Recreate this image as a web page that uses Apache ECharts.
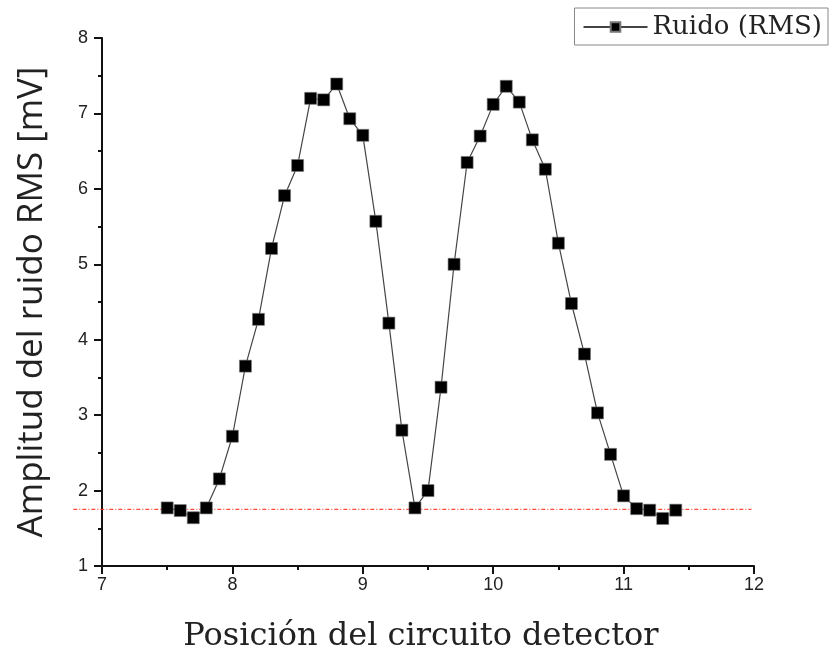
<!DOCTYPE html>
<html>
<head>
<meta charset="utf-8">
<script src="https://cdn.jsdelivr.net/npm/echarts@6/dist/echarts.min.js"></script>
<style>
  html, body { margin: 0; padding: 0; background: #fff; }
  #chart { width: 830px; height: 656px; }
</style>
</head>
<body>
<div id="chart"></div>
<script>
// Detector position (x) and RMS noise amplitude in mV (y)
const positions = [7.5, 7.6, 7.7, 7.8, 7.9, 8.0, 8.1, 8.2, 8.3, 8.4,
                   8.5, 8.6, 8.7, 8.8, 8.9, 9.0, 9.1, 9.2, 9.3, 9.4,
                   9.5, 9.6, 9.7, 9.8, 9.9, 10.0, 10.1, 10.2, 10.3, 10.4,
                   10.5, 10.6, 10.7, 10.8, 10.9, 11.0, 11.1, 11.2, 11.3, 11.4];
const rmsNoise = [1.77, 1.735, 1.64, 1.77, 2.155, 2.72, 3.65, 4.27, 5.21, 5.91,
                  6.31, 7.20, 7.18, 7.39, 6.93, 6.71, 5.57, 4.22, 2.80, 1.77,
                  2.00, 3.37, 5.00, 6.35, 6.70, 7.12, 7.36, 7.15, 6.65, 6.26,
                  5.28, 4.48, 3.81, 3.03, 2.48, 1.93, 1.76, 1.74, 1.63, 1.74];
// Baseline noise level and the span of its reference line
const baselineLevel = 1.75;
const baselineSpan = [6.78, 11.98];

const xTicks = [7, 8, 9, 10, 11, 12];
const yTicks = [1, 2, 3, 4, 5, 6, 7, 8];

const seriesName = 'Ruido (RMS)';

const chart = echarts.init(document.getElementById('chart'), null, { renderer: 'canvas' });

const axisCommon = {
  axisLine: { show: true, onZero: false, lineStyle: { color: '#111', width: 2 } },
  axisTick: { show: true, inside: false, length: 8, lineStyle: { color: '#111', width: 2 } },
  minorTick: { show: true, splitNumber: 2, length: 4, lineStyle: { color: '#111', width: 2 } },
  splitLine: { show: false },
  axisLabel: { color: '#222', fontFamily: 'Liberation Sans', fontSize: 18 }
};

chart.setOption({
  animation: false,
  backgroundColor: '#fff',
  grid: { left: 102, right: 76, top: 38, bottom: 90, containLabel: false, outerBoundsMode: 'none' },
  legend: {
    show: true,
    data: [seriesName],
    right: 2,
    top: 8,
    padding: [6, 6, 5, 8],
    borderColor: '#888',
    borderWidth: 1,
    itemWidth: 64,
    itemHeight: 12,
    itemGap: 6,
    textStyle: { fontFamily: 'DejaVu Serif', fontSize: 26, color: '#222' }
  },
  xAxis: Object.assign({}, axisCommon, {
    type: 'value',
    min: xTicks[0],
    max: xTicks[xTicks.length - 1],
    interval: 1,
    name: 'Posición del circuito detector',
    nameLocation: 'middle',
    nameGap: 55,
    nameTextStyle: { fontFamily: 'DejaVu Serif', fontSize: 32, color: '#222', padding: [0, 14, 0, 0] },
    axisLabel: Object.assign({}, axisCommon.axisLabel, { margin: 10 })
  }),
  yAxis: Object.assign({}, axisCommon, {
    type: 'value',
    min: yTicks[0],
    max: yTicks[yTicks.length - 1],
    interval: 1,
    name: 'Amplitud del ruido RMS [mV]',
    nameLocation: 'middle',
    nameGap: 52,
    nameTextStyle: { fontFamily: 'Open Sans', fontSize: 35, color: '#222' },
    axisLabel: Object.assign({}, axisCommon.axisLabel, { margin: 14 })
  }),
  series: [
    {
      name: seriesName,
      type: 'line',
      symbol: 'rect',
      symbolSize: 12,
      z: 3,
      itemStyle: { color: '#000', borderColor: '#777', borderWidth: 0.6 },
      lineStyle: { color: '#444', width: 1.2 },
      data: positions.map((x, i) => [x, rmsNoise[i]])
    }
  ]
});

// Baseline reference line; it runs past the y axis, so it is drawn as a
// graphic whose ends are converted from data values by the grid.
const p0 = chart.convertToPixel({ gridIndex: 0 }, [baselineSpan[0], baselineLevel]);
const p1 = chart.convertToPixel({ gridIndex: 0 }, [baselineSpan[1], baselineLevel]);
chart.setOption({
  graphic: [{
    type: 'line',
    silent: true,
    z: 1,
    shape: { x1: p0[0], y1: p0[1], x2: p1[0], y2: p1[1] },
    style: { stroke: '#ff2a1a', lineWidth: 1.3, opacity: 0.85, lineDash: [4, 2, 1, 2] }
  }]
});
</script>
</body>
</html>
